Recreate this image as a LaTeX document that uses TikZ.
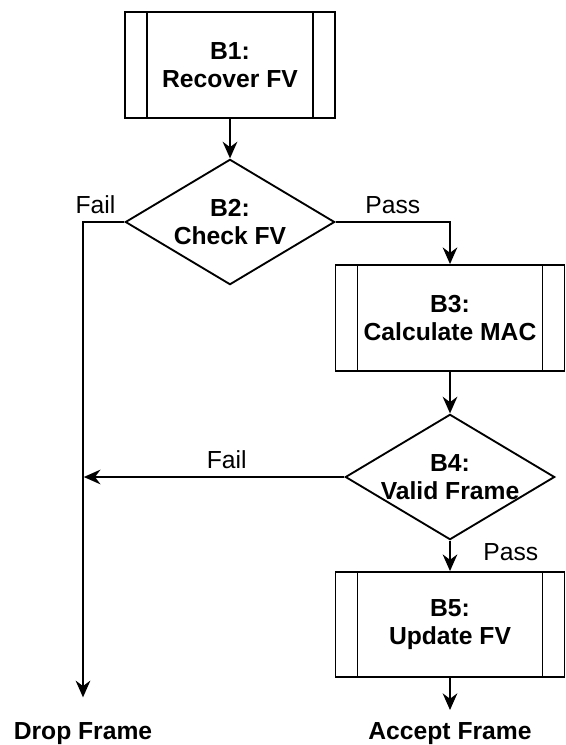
\documentclass[tikz,border=0pt]{standalone}
\usepackage{fontspec}
\setmainfont{Liberation Sans}
\usetikzlibrary{arrows.meta,positioning,shapes.geometric}

\newcommand{\chartsize}{\fontsize{18.5}{20.5}\selectfont}

\begin{document}
\begin{tikzpicture}[x=0.75pt,y=-0.75pt,->,>={Stealth[length=12.5pt,width=11pt]},
  line width=1.4pt,font=\chartsize,
  procbox/.style={draw,rectangle,minimum width=158pt,minimum height=79.5pt,
    align=center,font=\chartsize\bfseries,
    path picture={
      \draw[-] ([xshift=16.5pt]path picture bounding box.north west)
        -- ([xshift=16.5pt]path picture bounding box.south west);
      \draw[-] ([xshift=-16.5pt]path picture bounding box.north east)
        -- ([xshift=-16.5pt]path picture bounding box.south east);}},
  decision/.style={draw,diamond,minimum width=157pt,minimum height=94pt,inner sep=0pt},
  decision text/.style={align=center,font=\chartsize\bfseries},
  end text/.style={anchor=north,inner sep=0pt,font=\chartsize\bfseries}]

  \useasboundingbox (0,0) rectangle (565,745);

  \node[procbox] (b1) at (230,65) {B1:\\Recover FV};
  \node[decision] (b2) at (230,222) {};
  \node[decision text] (b2txt) at (b2) {B2:\\Check FV};
  \node[procbox,minimum width=171.75pt] (b3) at (450,318) {B3:\\Calculate MAC};
  \node[decision] (b4) at (450,477) {};
  \node[decision text] (b4txt) at (b4) {B4:\\Valid Frame};
  \node[procbox,minimum width=171.75pt,minimum height=78.75pt] (b5) at (450,624.5) {B5:\\Update FV};

  \node[end text] (drop) at (83,722) {Drop Frame};
  \node[end text] (accept) at (450,722) {Accept Frame};

  % main flow
  \draw (b1) -- (b2);
  \draw (b2.east) -| node[pos=0.25,above=2pt] {Pass} (b3.north);
  \draw (b3) -- (b4);
  \draw (b4.south) -- node[right=21pt,yshift=3pt] {Pass} (b5.north);
  \draw[shorten >=9pt] (b5) -- (accept);

  % rejected frames
  \draw[shorten >=18.5pt] (b2.west) -| node[pos=0.35,above=2pt] {Fail} (drop.north);
  \draw[shorten >=0.6pt] (b4.west) -- node[pos=0.45,above=2pt] {Fail} (b4.west -| drop.north);

\end{tikzpicture}
\end{document}
